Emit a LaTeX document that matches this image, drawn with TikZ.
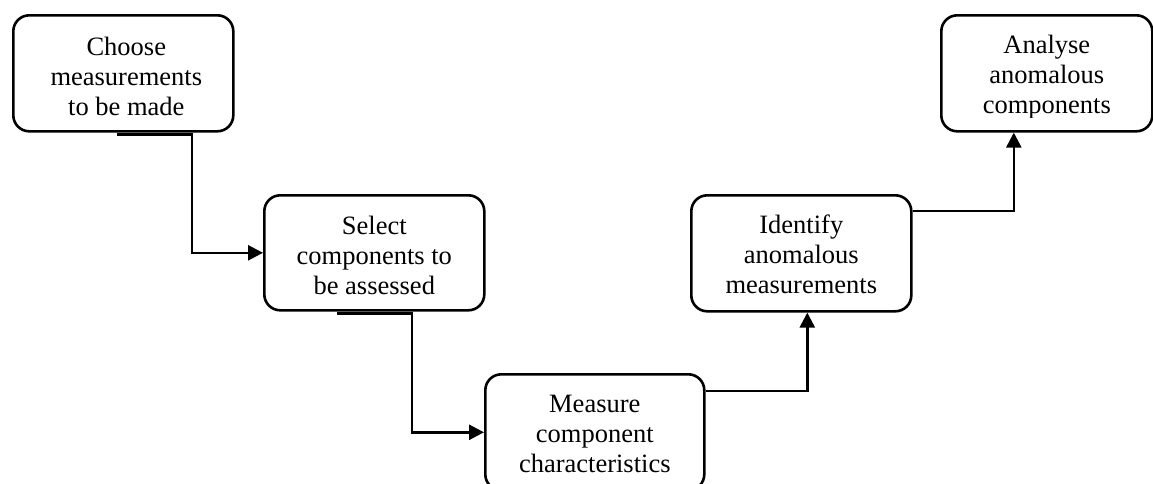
\documentclass[tikz,border=0pt]{standalone}
\usepackage{fontspec}
\setmainfont{Liberation Serif}
\usetikzlibrary{arrows.meta,calc}
\begin{document}
\begin{tikzpicture}[x=1pt,y=-1pt,
  box/.style={draw,line width=2.6pt,rounded corners=16pt,anchor=north west,inner sep=0pt},
  txt/.style={anchor=base,align=center,inner sep=0pt,font=\fontsize{26.5}{30}\selectfont},
  conn/.style={line width=2.6pt,-{Triangle[length=15pt,width=15pt]}}]
\clip (0,0) rectangle (1153,483);
\node[box,minimum width=220pt,minimum height=116pt] (b1) at (12,14) {};
\node[box,minimum width=220pt,minimum height=115pt] (b2) at (263,194) {};
\node[box,minimum width=219pt,minimum height=116pt] (b3) at (484,373) {};
\node[box,minimum width=220pt,minimum height=116pt] (b4) at (690,194) {};
\node[box,minimum width=211pt,minimum height=116pt] (b5) at (940,14) {};
% anchor=base refers to the last line: first baseline ~40 below top, 30 spacing
\node[txt] (t1) at ($(b1.north)+(3,101)$) {Choose\\measurements\\to be made};
\node[txt] (t2) at ($(b2.north)+(0,100)$) {Select\\components to\\be assessed};
\node[txt] (t3) at ($(b3.north)+(0,99)$) {Measure\\component\\characteristics};
\node[txt] (t4) at ($(b4.north)+(0,99)$) {Identify\\anomalous\\measurements};
\begin{scope}
\clip (b5.north west) rectangle ($(b5.south east)+(0,-15)$);
\node[txt] (t5) at ($(b5.north)+(0,99)$) {Analyse\\anomalous\\components};
\end{scope}
\coordinate (s1) at ($(b1.south west)+(105,2)$);
\coordinate (s2) at ($(b2.south west)+(74,2)$);
\coordinate (s3) at ($(b3.north east)+(0,18)$);
\coordinate (s4) at ($(b4.north east)+(0,17)$);
\draw[conn] (s1) -- ++(75,0) |- (b2.west);
\draw[conn] (s2) -- ++(75,0) |- (b3.west);
\draw[conn] (s3) -| ($(b4.south)+(6,0)$);
\draw[conn] (s4) -| ($(b5.south)+(-33,0)$);
\end{tikzpicture}
\end{document}
